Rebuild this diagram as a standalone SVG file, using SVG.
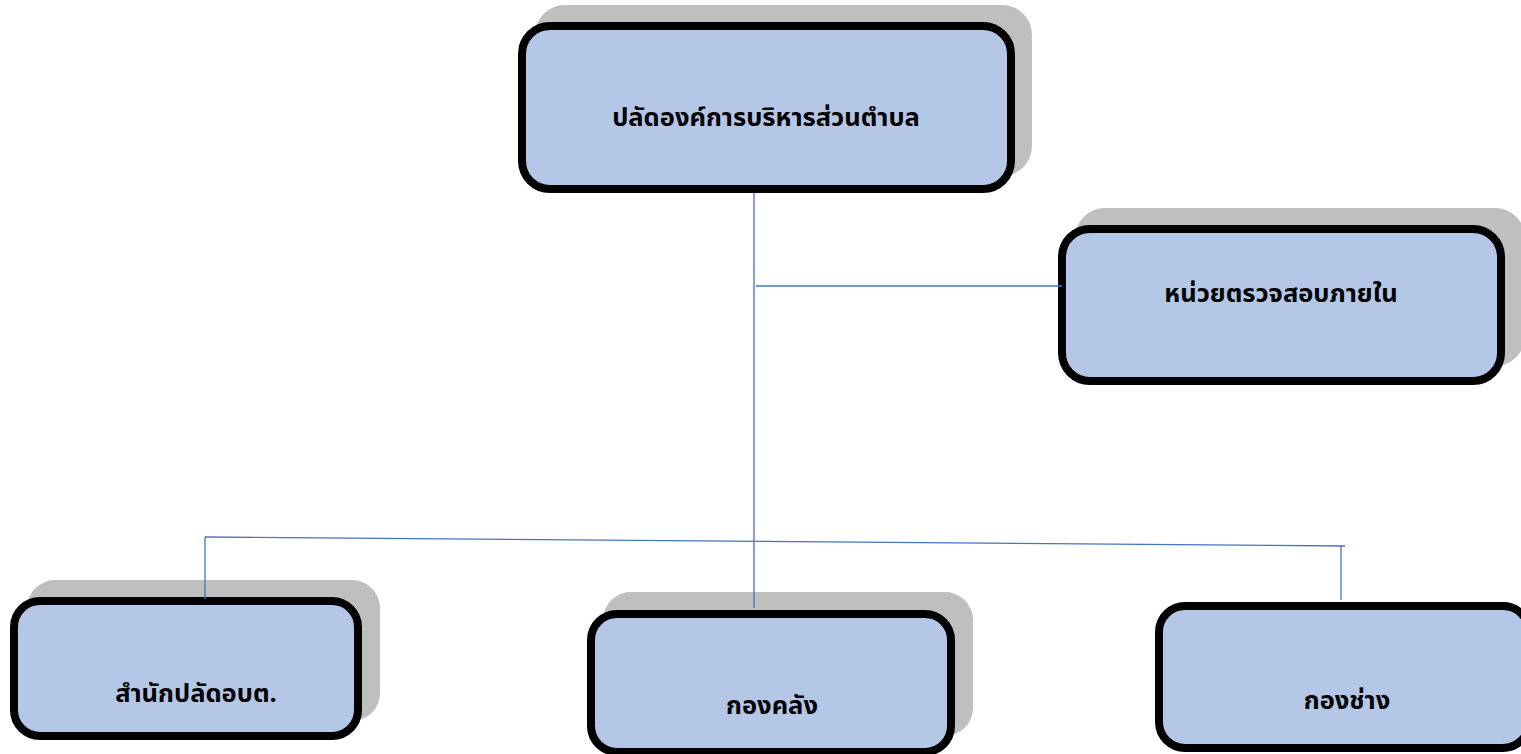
<svg xmlns="http://www.w3.org/2000/svg" width="1521" height="754" viewBox="0 0 1521 754">
<style>
.shadow{fill:#bfbfbf;}
.box{fill:#b4c7e7;stroke:#000;stroke-width:8;}
.lbl{font-family:"Noto Sans Thai","Noto Sans","DejaVu Sans",sans-serif;font-size:25.5px;font-weight:bold;fill:#000;text-anchor:middle;}
.conn{stroke:#4472c4;stroke-width:1.3;fill:none;}
</style>
<rect x="0" y="0" width="1521" height="754" fill="#fff"/>
<g id="node-top">
<rect class="shadow" x="535" y="5" width="497" height="171" rx="30"/>
<rect class="box" x="522" y="26" width="489" height="163" rx="28"/>
<text class="lbl" x="766" y="126">ปลัดองค์การบริหารส่วนตำบล</text>
</g>
<g id="node-audit">
<rect class="shadow" x="1075" y="208" width="450" height="158" rx="30"/>
<rect class="box" x="1062" y="229" width="439" height="152" rx="28"/>
<text class="lbl" x="1281" y="302">หน่วยตรวจสอบภายใน</text>
</g>
<g id="node-office">
<rect class="shadow" x="27" y="580" width="353" height="141" rx="28"/>
<rect class="box" x="14" y="601" width="344" height="135" rx="26"/>
<text class="lbl" x="196" y="702">สำนักปลัดอบต.</text>
</g>
<g id="node-finance">
<rect class="shadow" x="603" y="592" width="370" height="144" rx="28"/>
<rect class="box" x="591" y="614" width="360" height="138" rx="26"/>
<text class="lbl" x="772" y="714">กองคลัง</text>
</g>
<g id="node-works">
<rect class="box" x="1159" y="606" width="370" height="142" rx="26"/>
<text class="lbl" x="1347" y="709">กองช่าง</text>
</g>
<g id="connectors">
<line class="conn" x1="754" y1="193" x2="754" y2="608"/>
<line class="conn" x1="756" y1="286" x2="1062" y2="286"/>
<line class="conn" x1="205" y1="537" x2="1345" y2="546"/>
<line class="conn" x1="205" y1="537" x2="205" y2="599"/>
<line class="conn" x1="1341" y1="546" x2="1341" y2="600"/>
</g>
</svg>
